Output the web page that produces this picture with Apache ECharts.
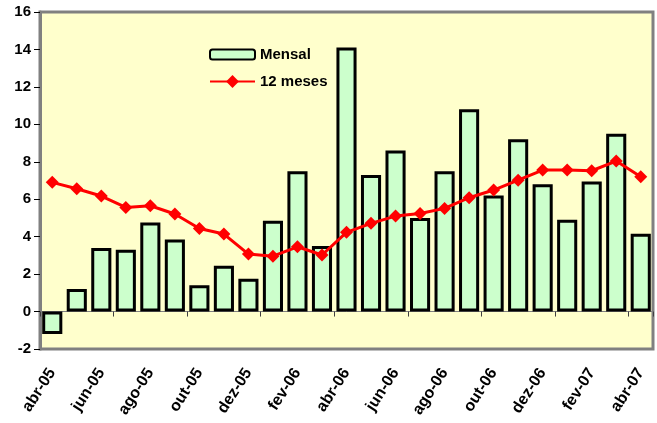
<!DOCTYPE html>
<html>
<head>
<meta charset="utf-8">
<script src="https://cdn.jsdelivr.net/npm/echarts@6/dist/echarts.min.js"></script>
<style>
  html, body { margin: 0; padding: 0; background: #ffffff; }
  #chart { width: 657px; height: 423px; }
</style>
</head>
<body>
<div id="chart"></div>
<script>
// Months from abr-05 to abr-07
const months = ['abr-05','mai-05','jun-05','jul-05','ago-05','set-05','out-05','nov-05','dez-05',
  'jan-06','fev-06','mar-06','abr-06','mai-06','jun-06','jul-06','ago-06','set-06','out-06',
  'nov-06','dez-06','jan-07','fev-07','mar-07','abr-07'];

// Monthly change (bars)
const mensal = [-1.2, 1.2, 3.4, 3.3, 4.75, 3.85, 1.4, 2.45, 1.75,
  4.85, 7.5, 3.5, 14.1, 7.3, 8.6, 5.0, 7.5, 10.8, 6.2,
  9.2, 6.8, 4.9, 6.95, 9.5, 4.15];

// Twelve-month accumulated (line)
const dozeMeses = [6.9, 6.56, 6.17, 5.56, 5.65, 5.21, 4.44, 4.14, 3.07,
  2.96, 3.46, 3.02, 4.23, 4.71, 5.1, 5.24, 5.51, 6.08, 6.49,
  7.02, 7.56, 7.56, 7.52, 8.04, 7.2];

const yTicks = { min: -2, max: 16, interval: 2 };

const chart = echarts.init(document.getElementById('chart'), null, { renderer: 'canvas' });
const font = 'Arial, "Liberation Sans", sans-serif';
const legendText = { fontFamily: font, fontWeight: 'bold', fontSize: 15, color: '#000' };

chart.setOption({
  animation: false,
  backgroundColor: '#ffffff',
  grid: {
    left: 40, right: 4, top: 12, bottom: 74,
    show: true,
    backgroundColor: '#FFFFCC',
    borderColor: '#808080',
    borderWidth: 3
  },
  legend: [
    {
      left: 209, top: 47, padding: 0,
      itemWidth: 45, itemHeight: 10,
      textStyle: legendText,
      data: ['Mensal']
    },
    {
      left: 209, top: 74, padding: 0,
      itemWidth: 45, itemHeight: 16,
      textStyle: legendText,
      data: ['12 meses']
    }
  ],
  xAxis: [
    {
      type: 'category',
      data: months,
      position: 'bottom',
      axisLine: { onZero: true, lineStyle: { color: '#808080', width: 1 } },
      axisTick: { show: true, alignWithLabel: false, inside: false, length: 5, lineStyle: { color: '#404040' } },
      axisLabel: { show: false },
      splitLine: { show: false }
    },
    {
      type: 'category',
      data: months,
      position: 'bottom',
      axisLine: { show: false, onZero: false },
      axisTick: { show: false },
      axisLabel: {
        show: true,
        interval: 1,
        rotate: 57,
        margin: 21,
        fontFamily: font, fontWeight: 'bold', fontSize: 16, color: '#000'
      },
      splitLine: { show: false }
    }
  ],
  yAxis: {
    type: 'value',
    min: yTicks.min, max: yTicks.max, interval: yTicks.interval,
    axisLine: { show: true, lineStyle: { color: '#808080', width: 3 } },
    axisTick: { show: true, length: 6, lineStyle: { color: '#000', width: 1 } },
    axisLabel: { margin: 9, fontFamily: font, fontWeight: 'bold', fontSize: 15, color: '#000' },
    splitLine: { show: false }
  },
  series: [
    {
      name: 'Mensal',
      type: 'bar',
      xAxisIndex: 0,
      data: mensal,
      barCategoryGap: '18%',
      itemStyle: { color: '#CCFFCC', borderColor: '#000', borderWidth: 3 },
      z: 2
    },
    {
      name: '12 meses',
      type: 'line',
      xAxisIndex: 0,
      data: dozeMeses,
      symbol: 'diamond',
      symbolSize: 13,
      lineStyle: { color: '#FF0000', width: 3 },
      itemStyle: { color: '#FF0000' },
      z: 3
    }
  ]
});
</script>
</body>
</html>
